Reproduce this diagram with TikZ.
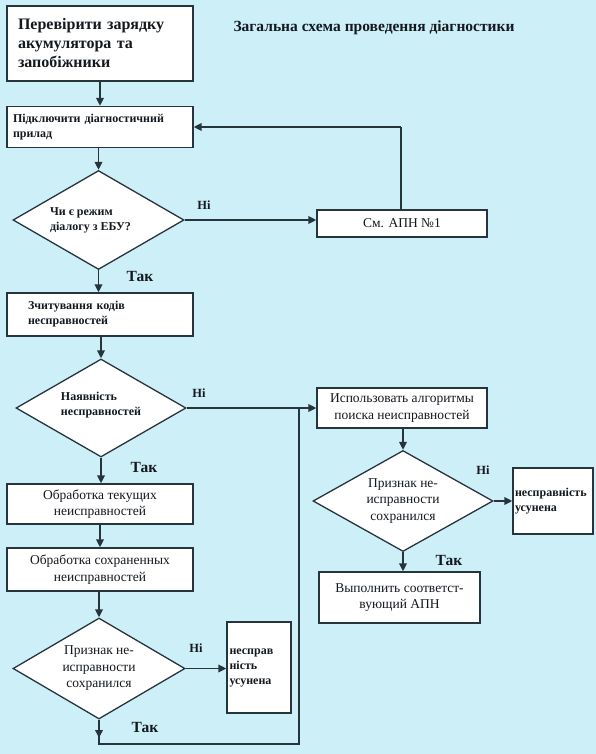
\documentclass[tikz,border=0pt]{standalone}
\usepackage{fontspec}
\setmainfont{Liberation Serif}
\usetikzlibrary{shapes.geometric,arrows.meta}
\definecolor{bgc}{RGB}{205,239,248}
\definecolor{lnc}{RGB}{38,52,60}
\definecolor{txc}{RGB}{20,25,30}
% zero-size text block: #1 x-shift, #2 y-shift, #3 alignment, #4 lines
\newcommand{\ztext}[4]{\raisebox{#2}[0pt][0pt]{\hbox to 0pt{\hss\kern#1\begin{tabular}{@{}#3@{}}#4\end{tabular}\kern-#1\hss}}}
\tikzset{
  box/.style={draw=lnc, line width=1.3pt, fill=white, rectangle, inner sep=0pt, text=txc},
  dia/.style={draw=lnc, line width=1.3pt, fill=white, diamond, inner sep=0pt, text=txc},
  arr/.style={draw=lnc, line width=1.8pt, -{Triangle[length=8pt,width=7.5pt]}},
  ln/.style={draw=lnc, line width=1.8pt},
  yesno/.style={font=\fontsize{12.5}{14}\selectfont\bfseries, text=txc, inner sep=0pt},
  tak/.style={font=\fontsize{15.5}{17}\selectfont\bfseries, text=txc, inner sep=0pt},
  bsmall/.style={font=\fontsize{12}{15}\selectfont\bfseries},
  rtext/.style={font=\fontsize{13.5}{16.5}\selectfont},
}
\begin{document}
\begin{tikzpicture}[x=1pt,y=-1pt]
\fill[bgc] (0,0) rectangle (596,754);
\useasboundingbox (0,0) rectangle (596,754);

% title
\node[font=\fontsize{15.5}{18}\selectfont\bfseries, text=txc, inner sep=0pt] (title) at (374,28) {Загальна схема проведення діагностики};

% left column
\node[box, minimum width=186pt, minimum height=75pt, text width=164pt, inner xsep=11pt, align=left,
      font=\fontsize{16}{19}\selectfont\bfseries] (b1) at (100,43.5)
  {Перевірити зарядку\\акумулятора та\\запобіжники};
\node[box, minimum width=186pt, minimum height=41pt, text width=174pt, inner xsep=6pt, align=left, bsmall] (b2) at (100,127)
  {Підключити діагностичний\\прилад};
\node[dia, minimum width=171pt, minimum height=99pt, bsmall] (d1) at (98.5,220)
  {\ztext{-8pt}{-3pt}{l}{Чи є режим\\діалогу з ЕБУ?}};
\node[box, minimum width=170pt, minimum height=27pt, rtext] (b3) at (402,223.5) {См. АПН №1};
\node[box, minimum width=186pt, minimum height=43pt, text width=144pt, inner xsep=21pt, align=left, bsmall] (b4) at (100,314.5)
  {Зчитування кодів\\несправностей};
\node[dia, minimum width=170pt, minimum height=98pt, bsmall] (d2) at (101,408)
  {\ztext{0pt}{0pt}{l}{Наявність\\несправностей}};
\node[box, minimum width=170pt, minimum height=40pt, align=center, rtext] (b5) at (402,408)
  {Использовать алгоритмы\\поиска неисправностей};
\node[box, minimum width=186pt, minimum height=40pt, align=center, rtext] (b6) at (100,504)
  {Обработка текущих\\неисправностей};
\node[box, minimum width=186pt, minimum height=43pt, align=center, rtext] (b7) at (100,569.5)
  {Обработка сохраненных\\неисправностей};
\node[dia, minimum width=172pt, minimum height=101pt, rtext] (d3) at (99,668.5)
  {\ztext{0pt}{-3pt}{c}{Признак не-\\исправности\\сохранился}};
\node[box, minimum width=64pt, minimum height=91pt, text width=59pt, inner xsep=2.5pt, align=left, bsmall] (b8) at (259,667.5)
  {\raisebox{4pt}{}несправ\\ність\\усунена\\[6pt]};

% right column
\node[dia, minimum width=180pt, minimum height=101pt, rtext] (d4) at (403,501)
  {\ztext{0pt}{-3pt}{c}{Признак не-\\исправности\\сохранился}};
\node[box, minimum width=80pt, minimum height=66pt, text width=76pt, inner xsep=2pt, align=left, bsmall] (b9) at (553,501)
  {несправність\\усунена\\[8pt]};
\node[box, minimum width=161pt, minimum height=51pt, align=center, rtext] (b10) at (399.5,597.5)
  {Выполнить соответст-\\вующий АПН};

% labels
\node[yesno] (n1) at (204,205) {Ні};
\node[yesno] (n2) at (199,393) {Ні};
\node[yesno] (n3) at (196,648) {Ні};
\node[yesno] (n4) at (483,470) {Ні};
\node[tak] (t1) at (140,276) {Так};
\node[tak] (t2) at (144,467) {Так};
\node[tak] (t3) at (145,727) {Так};
\node[tak] (t4) at (449,560) {Так};

% helper coordinates
\coordinate (fb) at (401,127);
\coordinate (merge) at (299,408);
\coordinate (bl) at (99,744);
\coordinate (br) at (299,744);
\coordinate (bt) at (99,738);

% connectors
\draw[arr] (b1.south) -- (b2.north);
\draw[arr] (b2.south -| d1.north) -- (d1.north);
\draw[arr] (d1.east) -- (b3.west |- d1.east);
\draw[ln] (b3.north -| fb) -- (fb);
\draw[arr] (fb) -- (b2.east);
\draw[arr] (d1.south) -- (b4.north -| d1.south);
\draw[arr] (b4.south -| d2.north) -- (d2.north);
\draw[arr] (d2.east) -- (b5.west);
\draw[arr] (d2.south) -- (b6.north -| d2.south);
\draw[arr] (b6.south) -- (b7.north);
\draw[arr] (b7.south -| d3.north) -- (d3.north);
\draw[arr] (d3.east) -- (b8.west |- d3.east);
\draw[ln] (d3.south) -- (bl) -- (br) -- (merge);
\draw[arr] (d3.south) -- (bt);
\draw[arr] (b5.south -| d4.north) -- (d4.north);
\draw[arr] (d4.east) -- (b9.west |- d4.east);
\draw[arr] (d4.south) -- (b10.north -| d4.south);
\end{tikzpicture}
\end{document}
